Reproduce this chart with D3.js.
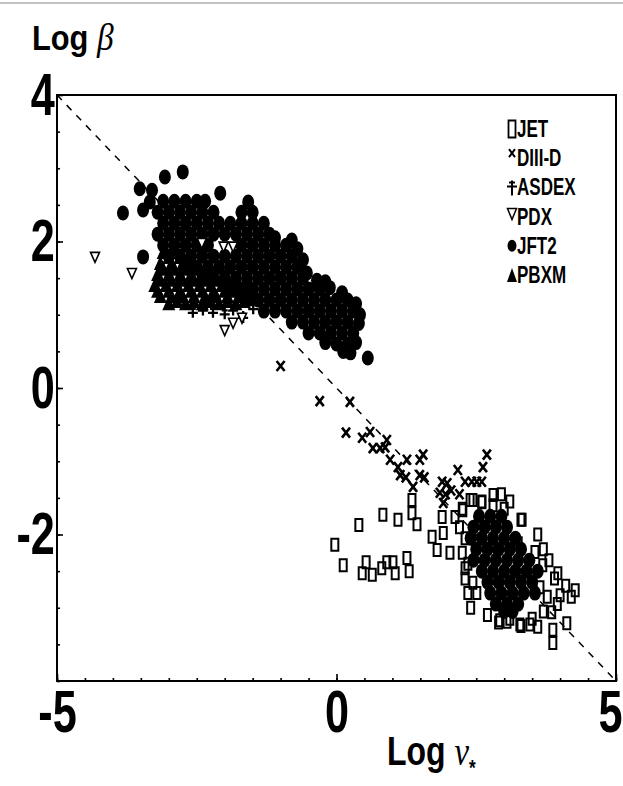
<!DOCTYPE html>
<html>
<head>
<meta charset="utf-8">
<script src="https://cdn.jsdelivr.net/npm/d3@7"></script>
<style>
  body { margin: 0; background: #fff; }
  svg { display: block; }
  text { font-family: "Liberation Sans", Arial, sans-serif; font-weight: bold; fill: #000; }
</style>
</head>
<body>
<svg id="chart" width="623" height="786"></svg>
<script>
/* ─── Data ───────────────────────────────────────────────────────────────── */
// Log nu* (x) vs Log beta (y).

const X_DOMAIN = [-5, 5];
const Y_DOMAIN = [-4, 4];
const X_LABELS = [-5, 0, 5];
const Y_LABELS = [4, 2, 0, -2];

const FIT_LINE = [[-5, 4], [5, -4]];

const JET = [
  [-0.03,-2.14],[0.12,-2.42],[0.40,-1.87],[0.83,-1.73],[1.10,-1.80],[1.35,-1.53],[1.35,-1.71],[1.44,-1.86],
  [0.46,-2.53],[0.53,-2.38],[0.64,-2.55],[0.81,-2.46],[0.90,-2.38],[1.01,-2.38],[1.05,-2.53],[1.26,-2.32],
  [1.30,-2.50],[1.71,-2.03],[1.80,-2.21],[1.89,-1.76],[2.03,-2.25],[2.12,-1.76],[1.91,-1.98],[2.30,-2.46],
  [2.39,-1.53],[2.26,-1.67],[2.60,-1.56],[2.80,-1.46],[3.32,-1.80],[3.25,-2.12],[3.55,-2.24],[3.69,-2.42],
  [3.96,-2.53],[4.27,-2.76],[3.87,-3.48],[3.87,-3.30],[4.12,-3.21],[2.44,-1.53],[2.92,-3.17],[3.05,-3.19],
  [3.28,-3.23],[3.46,-3.23],[3.60,-3.26],[3.85,-3.06],[3.77,-2.85],[4.00,-2.83],[3.64,-2.72],[2.51,-2.80],
  [2.44,-2.66],[2.25,-1.65],[2.20,-1.90],[2.30,-2.05],[2.25,-2.25],[2.35,-2.40],[2.30,-2.60],[2.35,-2.80],
  [2.40,-3.00],[3.60,-2.00],[3.70,-2.20],[3.80,-2.35],[3.90,-2.60],[4.10,-2.70],[4.20,-2.85],[3.95,-2.95],
  [3.70,-3.05],[3.50,-3.15],[2.60,-1.55],[2.80,-1.60],[3.00,-1.65],[3.10,-1.55],[2.95,-1.45],[3.30,-1.80],
  [2.70,-3.10],[2.90,-3.20],[3.10,-3.15],[3.30,-3.25]
];

const DIIID = [
  [-1.00,0.30],[-0.30,-0.18],[0.24,-0.19],[0.17,-0.61],[0.46,-0.68],[0.60,-0.60],[0.65,-0.82],[0.78,-0.82],
  [0.87,-0.81],[0.90,-0.71],[0.96,-0.98],[1.10,-1.08],[1.26,-0.98],[1.14,-1.19],[1.24,-1.22],[1.49,-0.98],
  [1.55,-0.91],[1.49,-1.19],[1.57,-1.22],[1.37,-1.35],[1.89,-1.28],[1.98,-1.30],[1.85,-1.43],[1.91,-1.57],
  [2.17,-1.12],[2.30,-1.28],[2.42,-1.28],[2.51,-1.28],[2.60,-1.28],[2.69,-0.91],[2.62,-1.08],[1.95,-1.45],
  [2.05,-1.40],[2.20,-1.45]
];

const ASDEX = [
  [-2.57,1.04],[-2.39,1.07],[-2.32,1.16],[-2.21,1.04],[-1.85,1.07],[-1.67,0.97],[-1.49,1.09],[-2.00,1.02]
];

const PDX = [
  [-4.32,1.79],[-3.66,1.57],[-2.41,1.98],[-2.02,1.93],[-1.85,1.93],[-2.00,0.79],[-1.85,0.89],[-1.69,0.96]
];

const JFT2 = [
  // isolated points at the top left
  [-3.82,2.39],[-3.52,2.72],[-3.30,2.70],[-3.34,2.54],[-3.46,2.43],[-3.07,2.88],[-2.75,2.95],[-3.46,1.79],
  // dense upper cluster
  [-3.10,2.55],[-2.90,2.55],[-2.70,2.55],[-2.50,2.55],[-2.35,2.55],[-2.08,2.66],[-1.58,2.54],
  [-3.20,2.40],[-3.00,2.40],[-2.80,2.40],[-2.60,2.40],[-2.40,2.40],[-2.20,2.40],[-1.70,2.40],[-1.50,2.40],
  [-3.10,2.25],[-2.90,2.25],[-2.70,2.25],[-2.50,2.25],[-2.30,2.25],[-2.10,2.25],[-1.90,2.25],[-1.70,2.25],
  [-1.50,2.25],[-1.30,2.25],
  [-3.20,2.10],[-3.00,2.10],[-2.80,2.10],[-2.60,2.10],[-2.40,2.10],[-2.20,2.10],[-2.00,2.10],[-1.80,2.10],
  [-1.60,2.10],[-1.40,2.10],[-1.20,2.10],[-1.10,2.05],[-0.80,2.02],
  [-3.10,1.95],[-2.90,1.95],[-2.70,1.95],[-2.50,1.95],[-2.30,1.95],[-1.70,1.95],[-1.50,1.95],[-1.30,1.95],
  [-1.10,1.95],[-0.90,1.95],[-0.70,1.90],
  [-3.00,1.80],[-2.80,1.80],[-2.60,1.80],[-2.40,1.80],[-2.20,1.80],[-2.00,1.80],[-1.80,1.80],[-1.60,1.80],
  [-1.40,1.80],[-1.20,1.80],[-1.00,1.80],[-0.80,1.80],[-0.60,1.75],
  [-2.70,1.65],[-2.50,1.65],[-2.30,1.65],[-2.10,1.65],[-1.90,1.65],[-1.70,1.65],[-1.50,1.65],[-1.30,1.65],
  [-1.10,1.65],[-0.90,1.65],[-0.70,1.65],[-0.53,1.57],
  [-2.40,1.50],[-2.20,1.50],[-2.00,1.50],[-1.80,1.50],[-1.60,1.50],[-1.40,1.50],[-1.20,1.50],[-1.00,1.50],
  [-0.80,1.50],[-0.60,1.50],[-0.35,1.47],[-0.20,1.45],
  [-1.90,1.35],[-1.70,1.35],[-1.50,1.35],[-1.30,1.35],[-1.10,1.35],[-0.90,1.35],[-0.70,1.35],[-0.50,1.35],
  [-0.30,1.35],[-0.12,1.37],[0.10,1.30],
  [-1.60,1.20],[-1.40,1.20],[-1.20,1.20],[-1.00,1.20],[-0.80,1.20],[-0.60,1.20],[-0.40,1.20],[-0.20,1.20],
  [0.00,1.20],[0.20,1.20],[0.35,1.15],
  [-1.30,1.05],[-1.10,1.05],[-0.90,1.05],[-0.70,1.05],[-0.50,1.05],[-0.30,1.05],[-0.10,1.05],[0.10,1.05],
  [0.30,1.05],[0.42,1.00],
  [-0.80,0.90],[-0.60,0.90],[-0.40,0.90],[-0.20,0.90],[0.00,0.90],[0.20,0.90],[0.40,0.88],
  [-0.50,0.75],[-0.30,0.75],[-0.10,0.75],[0.10,0.75],[0.30,0.75],
  [-0.20,0.62],[0.00,0.60],[0.20,0.60],[0.35,0.62],
  [0.12,0.50],[0.25,0.48],[0.56,0.41],
  // dense core of the lower cluster
  [2.55,-1.75],[2.75,-1.75],[2.95,-1.75],
  [2.45,-1.90],[2.65,-1.90],[2.85,-1.90],[3.05,-1.90],
  [2.40,-2.05],[2.60,-2.05],[2.80,-2.05],[3.00,-2.05],[3.20,-2.05],
  [2.50,-2.20],[2.70,-2.20],[2.90,-2.20],[3.10,-2.20],[3.30,-2.20],
  [2.45,-2.35],[2.65,-2.35],[2.85,-2.35],[3.05,-2.35],[3.25,-2.35],[3.45,-2.35],
  [2.60,-2.50],[2.80,-2.50],[3.00,-2.50],[3.20,-2.50],[3.40,-2.50],[3.60,-2.50],
  [2.70,-2.65],[2.90,-2.65],[3.10,-2.65],[3.30,-2.65],[3.50,-2.65],
  [2.75,-2.80],[2.95,-2.80],[3.15,-2.80],[3.35,-2.80],[3.55,-2.80],
  [2.85,-2.95],[3.05,-2.95],[3.25,-2.95],
  [3.00,-3.05],[3.15,-3.05]
];

const PBXM = [
  [-3.10,1.85],[-2.90,1.85],
  [-3.00,1.78],[-2.80,1.78],[-2.65,1.78],
  [-3.15,1.70],[-2.95,1.70],[-2.75,1.70],[-2.55,1.70],
  [-3.10,1.62],[-2.90,1.62],[-2.70,1.62],[-2.50,1.62],[-2.30,1.62],
  [-3.20,1.55],[-3.00,1.55],[-2.80,1.55],[-2.60,1.55],[-2.40,1.55],[-2.20,1.55],
  [-3.15,1.47],[-2.95,1.47],[-2.75,1.47],[-2.55,1.47],[-2.35,1.47],[-2.15,1.47],[-1.95,1.47],
  [-3.25,1.40],[-3.05,1.40],[-2.85,1.40],[-2.65,1.40],[-2.45,1.40],[-2.25,1.40],[-2.05,1.40],[-1.85,1.40],
  [-3.20,1.32],[-3.00,1.32],[-2.80,1.32],[-2.60,1.32],[-2.40,1.32],[-2.20,1.32],[-2.00,1.32],[-1.80,1.32],
  [-1.60,1.32],
  [-3.15,1.25],[-2.95,1.25],[-2.75,1.25],[-2.55,1.25],[-2.35,1.25],[-2.15,1.25],[-1.95,1.25],[-1.75,1.25],
  [-1.55,1.25],
  [-2.85,1.18],[-2.55,1.18],[-2.25,1.18],[-1.95,1.18],[-1.65,1.18],
  [-3.00,1.15],[-2.70,1.15],[-2.40,1.15],[-2.10,1.15],[-1.80,1.15]
];

/* ─── Marker shapes (pixel paths around the point) ───────────────────────── */

const SHAPES = {
  square:   { d: 'M-3.5,-6h7v12h-7z', fill: 'none', sw: 2 },
  cross:    { d: 'M-4,-5L4,5M4,-5L-4,5', fill: 'none', sw: 2.6 },
  plus:     { d: 'M0,-6V6M-5,1H5M-3,-3H3', fill: 'none', sw: 2.3 },
  triDown:  { d: 'M-4.5,-4.5H4.5L0,5.5Z', fill: '#fff', sw: 1.6 },
  circle:   { d: 'M-6,0a6,7.5 0 1,0 12,0a6,7.5 0 1,0 -12,0', fill: '#000', sw: 0 },
  triUp:    { d: 'M0,-8L6.5,6.5H-6.5Z', fill: '#000', sw: 0 },
};

const SERIES = [
  { name: 'JET',    data: JET,   shape: 'square'  },
  { name: 'DIII-D', data: DIIID, shape: 'cross'   },
  { name: 'ASDEX',  data: ASDEX, shape: 'plus'    },
  { name: 'PDX',    data: PDX,   shape: 'triDown' },
  { name: 'JFT2',   data: JFT2,  shape: 'circle'  },
  { name: 'PBXM',   data: PBXM,  shape: 'triUp'   },
];

// order in which the marks are painted (last on top)
const DRAW_ORDER = ['JFT2', 'PBXM', 'JET', 'DIII-D', 'ASDEX', 'PDX'];

/* ─── Layout ─────────────────────────────────────────────────────────────── */

const svg = d3.select('#chart');
const x = d3.scaleLinear().domain(X_DOMAIN).range([57, 616]);
const y = d3.scaleLinear().domain(Y_DOMAIN).range([681, 95]);

// faint scan edge across the top
svg.append('line')
  .attr('x1', 0).attr('x2', 623).attr('y1', 3).attr('y2', 3)
  .attr('stroke', '#888').attr('stroke-width', 1.2);

/* ─── Axes ───────────────────────────────────────────────────────────────── */

const LABEL_SX = 0.72;
const condense = sel => sel.selectAll('text').attr('transform', `scale(${LABEL_SX},1)`);
const plain = d => String(d);   // keep the short hyphen of the original

// minor ticks every 0.5, pointing into the plot
svg.append('g').attr('transform', `translate(0,${y(Y_DOMAIN[0])})`)
  .call(d3.axisBottom(x).tickValues(d3.range(-5, 5.01, 0.5)).tickSize(-3).tickFormat(''));
svg.append('g').attr('transform', `translate(${x(X_DOMAIN[0])},0)`)
  .call(d3.axisLeft(y).tickValues(d3.range(-4, 4.01, 0.5)).tickSize(-3).tickFormat(''));

// labelled ticks
svg.append('g').attr('class', 'x-axis').attr('transform', `translate(0,${y(Y_DOMAIN[0])})`)
  .call(d3.axisBottom(x).tickValues(X_LABELS).tickSize(-7).tickSizeOuter(0).tickPadding(8).tickFormat(plain))
  .call(g => g.selectAll('text').attr('font-size', 60).attr('font-family', '"Liberation Sans", Arial, sans-serif'))
  .call(condense)
  // the last label sits on the right edge of the page: pull it back inside
  .call(g => g.selectAll('text').filter(d => d === X_DOMAIN[1])
    .attr('text-anchor', 'end').attr('x', 6 / LABEL_SX));

svg.append('g').attr('class', 'y-axis').attr('transform', `translate(${x(X_DOMAIN[0])},0)`)
  .call(d3.axisLeft(y).tickValues(Y_LABELS).tickSize(-6).tickSizeOuter(0).tickPadding(3).tickFormat(plain))
  .call(g => g.selectAll('text').attr('font-size', 60).attr('font-family', '"Liberation Sans", Arial, sans-serif'))
  .call(condense);

svg.selectAll('.domain').remove();
svg.selectAll('.tick line').attr('stroke', '#000').attr('stroke-width', 1.6);

/* ─── Fit line ───────────────────────────────────────────────────────────── */

svg.append('path')
  .datum(FIT_LINE)
  .attr('d', d3.line().x(d => x(d[0])).y(d => y(d[1])))
  .attr('fill', 'none').attr('stroke', '#000')
  .attr('stroke-width', 1.5).attr('stroke-dasharray', '7,7');

/* ─── Points ─────────────────────────────────────────────────────────────── */

const plot = svg.append('g');
DRAW_ORDER.forEach(name => {
  const s = SERIES.find(d => d.name === name);
  const shape = SHAPES[s.shape];
  plot.append('g').selectAll('path')
    .data(s.data)
    .join('path')
    .attr('transform', d => `translate(${x(d[0])},${y(d[1])})`)
    .attr('d', shape.d)
    .attr('fill', shape.fill)
    .attr('stroke', '#000')
    .attr('stroke-width', shape.sw);
});

/* ─── Frame ──────────────────────────────────────────────────────────────── */

svg.append('rect')
  .attr('x', x(X_DOMAIN[0])).attr('y', y(Y_DOMAIN[1]))
  .attr('width', x(X_DOMAIN[1]) - x(X_DOMAIN[0]))
  .attr('height', y(Y_DOMAIN[0]) - y(Y_DOMAIN[1]))
  .attr('fill', 'none').attr('stroke', '#000').attr('stroke-width', 2);

/* ─── Legend ─────────────────────────────────────────────────────────────── */

const LEGEND_SHAPES = {
  square:  { d: 'M-3.5,-8.5h7v17h-7z', fill: 'none', sw: 1.8, dy: -8 },
  cross:   { d: 'M-3,-4L3,4M3,-4L-3,4', fill: 'none', sw: 2, dy: -13 },
  plus:    { d: 'M0,-7V8M-5,-1H5M-3,-5H3', fill: 'none', sw: 2, dy: -8 },
  triDown: { d: 'M-4.5,-5H4.5L0,6Z', fill: '#fff', sw: 1.5, dy: -11 },
  circle:  { d: 'M-4.5,0a4.5,6 0 1,0 9,0a4.5,6 0 1,0 -9,0', fill: '#000', sw: 0, dy: -8 },
  triUp:   { d: 'M0,-7L5,7H-5Z', fill: '#000', sw: 0, dy: -8 },
};

const legend = svg.append('g').attr('transform', 'translate(512,137)');
const row = legend.selectAll('g')
  .data(SERIES)
  .join('g')
  .attr('transform', (d, i) => `translate(0,${i * 29.2})`);

row.append('path')
  .attr('transform', d => `translate(0,${LEGEND_SHAPES[d.shape].dy})`)
  .attr('d', d => LEGEND_SHAPES[d.shape].d)
  .attr('fill', d => LEGEND_SHAPES[d.shape].fill)
  .attr('stroke', '#000')
  .attr('stroke-width', d => LEGEND_SHAPES[d.shape].sw);

row.append('text')
  .attr('transform', 'translate(5,0) scale(0.74,1)')
  .attr('font-size', 23)
  .text(d => d.name);

/* ─── Axis titles ────────────────────────────────────────────────────────── */

const yTitle = svg.append('text')
  .attr('transform', 'translate(32,50) scale(0.88,1)')
  .attr('font-size', 35);
yTitle.append('tspan').text('Log ');
yTitle.append('tspan')
  .attr('font-family', '"Liberation Serif", "DejaVu Serif", serif')
  .attr('font-style', 'italic').attr('font-weight', 'normal')
  .attr('font-size', 38).text('β');

const xTitle = svg.append('text')
  .attr('transform', 'translate(387,765) scale(0.78,1)')
  .attr('font-size', 41);
xTitle.append('tspan').text('Log ');
xTitle.append('tspan')
  .attr('font-family', '"Liberation Serif", "DejaVu Serif", serif')
  .attr('font-style', 'italic').attr('font-weight', 'normal')
  .attr('font-size', 42).text('ν');
xTitle.append('tspan')
  .attr('font-size', 22).attr('dy', 10).text('*');
</script>
</body>
</html>
